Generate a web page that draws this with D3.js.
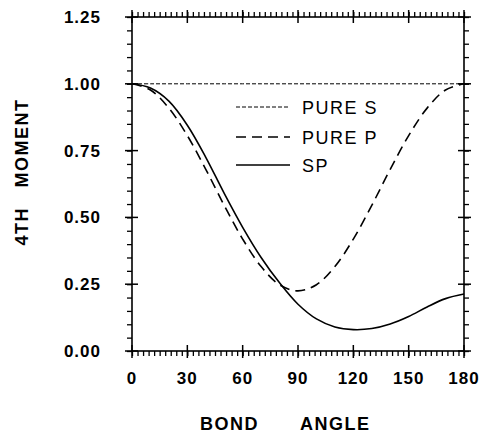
<!DOCTYPE html>
<html><head><meta charset="utf-8">
<script src="https://cdn.jsdelivr.net/npm/d3@7"></script>
<style>
body{margin:0;background:#fff}
svg{display:block}
text{font-family:"Liberation Sans",Arial,Helvetica,sans-serif;fill:#000}
</style>
</head><body><svg id="c" width="482" height="434"></svg>
<script>
// ---- data ----
const angles = [0,10,20,30,40,50,60,70,80,90,100,110,120,130,140,150,160,170,180];
const pureS  = [1,1,1,1,1,1,1,1,1,1,1,1,1,1,1,1,1,1,1];
const pureP  = [1.00,0.977,0.909,0.806,0.680,0.545,0.419,0.316,0.248,0.225,0.248,0.316,0.419,0.545,0.680,0.806,0.909,0.977,1.00];
const sp     = [1.00,0.984,0.935,0.845,0.725,0.59,0.463,0.35,0.255,0.175,0.12,0.09,0.08,0.084,0.101,0.129,0.165,0.196,0.213];
const xTicks = [0,30,60,90,120,150,180];
const yTicks = [0,0.25,0.5,0.75,1.0,1.25];
const yTickLabels = ["0.00","0.25","0.50","0.75","1.00","1.25"];
const legendLabels = ["PURE S","PURE P","SP"];
const xTitleWords = ["BOND","ANGLE"];
const yTitle = "4TH   MOMENT";

// ---- setup ----
const svg = d3.select("#c");
const L = 132, R = 464, T = 17, B = 351;
const x = d3.scaleLinear().domain([0,180]).range([L,R]);
const y = d3.scaleLinear().domain([0,1.25]).range([B,T]);

const g = svg.append("g");

// minor ticks via axes (outward)
const minorX = d3.range(0,181,3);
const minorY = d3.range(0,1.2501,0.05);
function styleAxis(sel){
  sel.select(".domain").remove();
  sel.selectAll(".tick line").attr("stroke","#000").attr("stroke-width",1.3);
}
g.append("g").attr("transform",`translate(0,${B})`)
  .call(d3.axisBottom(x).tickValues(minorX).tickSize(5).tickFormat("")).call(styleAxis);
g.append("g").attr("transform",`translate(0,${T})`)
  .call(d3.axisTop(x).tickValues(minorX).tickSize(5).tickFormat("")).call(styleAxis);
g.append("g").attr("transform",`translate(${L},0)`)
  .call(d3.axisLeft(y).tickValues(minorY).tickSize(5).tickFormat("")).call(styleAxis);
g.append("g").attr("transform",`translate(${R},0)`)
  .call(d3.axisRight(y).tickValues(minorY).tickSize(5).tickFormat("")).call(styleAxis);

// major ticks crossing
xTicks.forEach(v=>{
  g.append("line").attr("x1",x(v)).attr("x2",x(v)).attr("y1",B-6).attr("y2",B+7).attr("stroke","#000").attr("stroke-width",1.5);
  g.append("line").attr("x1",x(v)).attr("x2",x(v)).attr("y1",T-7).attr("y2",T+6).attr("stroke","#000").attr("stroke-width",1.5);
});
yTicks.forEach(v=>{
  g.append("line").attr("x1",L-7).attr("x2",L+6).attr("y1",y(v)).attr("y2",y(v)).attr("stroke","#000").attr("stroke-width",1.5);
  g.append("line").attr("x1",R-6).attr("x2",R+7).attr("y1",y(v)).attr("y2",y(v)).attr("stroke","#000").attr("stroke-width",1.5);
});

// frame
g.append("rect").attr("x",L).attr("y",T).attr("width",R-L).attr("height",B-T)
  .attr("fill","none").attr("stroke","#000").attr("stroke-width",1.6);

// tick labels
g.selectAll(".xl").data(xTicks).enter().append("text")
  .attr("x",d=>x(d)).attr("y",384).attr("text-anchor","middle")
  .attr("font-size",17).attr("font-weight","bold").attr("letter-spacing",1)
  .text(d=>String(d));
g.selectAll(".yl").data(yTicks).enter().append("text")
  .attr("x",101).attr("y",d=>y(d)+6).attr("text-anchor","end")
  .attr("font-size",17).attr("font-weight","bold").attr("letter-spacing",1)
  .text((d,i)=>yTickLabels[i]);

// axis titles
g.append("text").attr("x",200).attr("y",430).attr("font-size",18).attr("font-weight","bold")
  .attr("letter-spacing",1.5).text(xTitleWords[0]);
g.append("text").attr("x",300).attr("y",430).attr("font-size",18).attr("font-weight","bold")
  .attr("letter-spacing",1.5).text(xTitleWords[1]);
g.append("text").attr("transform","translate(28,172) rotate(-90)").attr("text-anchor","middle")
  .attr("font-size",18).attr("font-weight","bold").attr("letter-spacing",1.5)
  .attr("xml:space","preserve").style("white-space","pre").text(yTitle);

// curves
const line = d3.line().x((d,i)=>x(angles[i])).y(d=>y(d)).curve(d3.curveCatmullRom.alpha(0.5));
const plot = g.append("g");
plot.append("path").attr("d",line(pureS)).attr("fill","none").attr("stroke","#000")
  .attr("stroke-width",1).attr("stroke-dasharray","4,2");
plot.append("path").attr("d",line(pureP)).attr("fill","none").attr("stroke","#000")
  .attr("stroke-width",1.6).attr("stroke-dasharray","10,6");
plot.append("path").attr("d",line(sp)).attr("fill","none").attr("stroke","#000")
  .attr("stroke-width",1.6);

// legend
const styles = [{w:1,da:"4,2"},{w:1.6,da:"10,6"},{w:1.6,da:null}];
const legY = [107,137,165];
legendLabels.forEach((lab,i)=>{
  const ln = g.append("line").attr("x1",236).attr("x2",290).attr("y1",legY[i]).attr("y2",legY[i])
    .attr("stroke","#000").attr("stroke-width",styles[i].w);
  if(styles[i].da) ln.attr("stroke-dasharray",styles[i].da);
  g.append("text").attr("x",302).attr("y",legY[i]+7).attr("font-size",18)
    .attr("letter-spacing",1.5).text(lab);
});
</script></body></html>
